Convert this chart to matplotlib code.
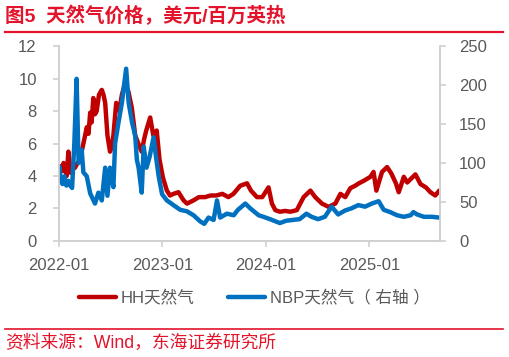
import matplotlib
matplotlib.use('Agg')
import matplotlib.pyplot as plt
from matplotlib.lines import Line2D
import pandas as pd

plt.rcParams['font.family'] = ['Liberation Sans', 'Noto Sans CJK SC', 'DejaVu Sans']

# HH 天然气（左轴，美元/百万英热）
hh_dates = [
    '2022-01-03', '2022-01-06', '2022-01-12', '2022-01-17', '2022-01-24', '2022-01-28',
    '2022-02-03', '2022-02-11', '2022-02-19', '2022-02-26', '2022-03-07', '2022-03-16',
    '2022-03-28', '2022-04-09', '2022-04-15', '2022-04-21', '2022-04-26', '2022-05-02',
    '2022-05-08', '2022-05-14', '2022-05-22', '2022-06-01', '2022-06-07', '2022-06-13',
    '2022-06-21', '2022-06-30', '2022-07-06', '2022-07-12', '2022-07-22', '2022-08-02',
    '2022-08-11', '2022-08-22', '2022-09-03', '2022-09-15', '2022-09-27', '2022-10-08',
    '2022-10-20', '2022-10-29', '2022-11-05', '2022-11-19', '2022-11-30', '2022-12-12',
    '2022-12-22', '2023-01-03', '2023-01-17', '2023-01-28', '2023-02-09', '2023-02-27',
    '2023-03-17', '2023-03-29', '2023-04-21', '2023-05-10', '2023-06-01', '2023-06-20',
    '2023-07-10', '2023-08-01', '2023-08-22', '2023-09-09', '2023-10-03', '2023-10-27',
    '2023-11-10', '2023-12-01', '2023-12-20', '2024-01-11', '2024-01-23', '2024-02-04',
    '2024-02-20', '2024-03-10', '2024-03-28', '2024-04-20', '2024-05-14', '2024-06-07',
    '2024-06-24', '2024-07-18', '2024-08-10', '2024-09-03', '2024-09-21', '2024-10-08',
    '2024-10-26', '2024-11-12', '2024-11-25', '2024-12-12', '2025-01-05', '2025-01-16',
    '2025-01-26', '2025-02-15', '2025-03-05', '2025-03-20', '2025-04-05', '2025-04-15',
    '2025-05-03', '2025-05-15', '2025-06-13', '2025-07-01', '2025-07-20', '2025-08-05',
    '2025-08-22', '2025-09-05',
]
hh_values = [
    4.0, 4.6, 4.3, 4.8, 4.3, 4.0,
    5.5, 4.2, 4.6, 4.5, 4.8, 5.0,
    6.0, 7.0, 6.6, 7.9, 7.3, 8.8,
    7.8, 8.0, 9.0, 9.3, 9.0, 8.5,
    6.5, 5.5, 5.8, 6.5, 8.5, 8.0,
    9.0, 9.7, 9.2, 8.2, 6.5, 6.0,
    5.5, 6.3, 6.8, 7.6, 6.5, 6.8,
    5.0, 3.9, 3.1, 2.8, 2.9, 3.0,
    2.5, 2.3, 2.5, 2.7, 2.7, 2.8,
    2.8, 2.9, 2.7, 2.9, 3.4, 3.55,
    3.1, 2.7, 2.7, 3.3, 2.3, 1.9,
    1.8, 1.85, 1.8, 1.9, 2.7, 3.1,
    2.7, 2.3, 2.1, 2.3, 2.9, 2.7,
    3.25, 3.4, 3.55, 3.7, 3.95, 4.25,
    3.1, 4.25, 4.55, 4.15, 3.55, 3.0,
    3.95, 3.6, 4.1, 3.5, 3.3, 3.0,
    2.8, 3.1,
]

# NBP 天然气（右轴）
nbp_dates = [
    '2022-01-03', '2022-01-06', '2022-01-13', '2022-01-20', '2022-01-27', '2022-02-03',
    '2022-02-10', '2022-02-16', '2022-02-24', '2022-03-04', '2022-03-11', '2022-03-18',
    '2022-03-22', '2022-03-28', '2022-04-09', '2022-04-21', '2022-05-08', '2022-05-20',
    '2022-06-01', '2022-06-13', '2022-06-21', '2022-06-30', '2022-07-12', '2022-07-18',
    '2022-07-30', '2022-08-11', '2022-08-26', '2022-09-04', '2022-09-16', '2022-09-27',
    '2022-10-03', '2022-10-09', '2022-10-20', '2022-10-27', '2022-11-06', '2022-11-17',
    '2022-12-01', '2022-12-11', '2022-12-19', '2022-12-31', '2023-01-17', '2023-02-09',
    '2023-03-05', '2023-03-29', '2023-04-21', '2023-05-15', '2023-05-29', '2023-06-13',
    '2023-07-01', '2023-07-13', '2023-07-24', '2023-08-17', '2023-09-10', '2023-09-25',
    '2023-10-21', '2023-11-07', '2023-12-07', '2023-12-24', '2024-01-16', '2024-02-20',
    '2024-03-14', '2024-04-07', '2024-04-30', '2024-05-24', '2024-06-11', '2024-07-04',
    '2024-07-28', '2024-08-21', '2024-09-13', '2024-10-07', '2024-10-31', '2024-11-23',
    '2024-12-17', '2025-01-10', '2025-02-03', '2025-02-21', '2025-03-16', '2025-04-09',
    '2025-05-03', '2025-05-27', '2025-06-06', '2025-06-19', '2025-07-13', '2025-08-11',
    '2025-09-05',
]
nbp_values = [
    95, 79, 73, 83, 71, 77,
    71, 68, 125, 208, 100, 104,
    117, 88, 83, 61, 48, 62,
    52, 94, 58, 94, 69, 125,
    152, 177, 221, 177, 152, 135,
    104, 94, 62, 121, 94, 108,
    133, 104, 83, 60, 52, 46,
    40, 38, 33, 25, 22, 30,
    27, 52, 30, 35, 33, 40,
    48, 42, 33, 31, 28, 23,
    26, 27, 28, 35, 31, 28,
    31, 44, 34, 39, 42, 46,
    44, 48, 51, 40, 37, 33,
    31, 33, 37, 34, 31, 31,
    30,
]

tick_dates = ['2022-01-01', '2023-01-01', '2024-01-01', '2025-01-01']
tick_labels = ['2022-01', '2023-01', '2024-01', '2025-01']

red = '#C00000'
blue = '#0070C0'
grey_txt = '#595959'
grey_ax = '#D0D0D0'
title_red = '#E3132B'

fig = plt.figure(figsize=(5.09, 3.57), dpi=100)
ax = fig.add_axes([0.116, 0.325, 0.748, 0.546])
ax2 = ax.twinx()

l1, = ax.plot(pd.to_datetime(hh_dates), hh_values, color=red, lw=3.2,
              solid_capstyle='round', solid_joinstyle='round', label='HH天然气')
l2, = ax2.plot(pd.to_datetime(nbp_dates), nbp_values, color=blue, lw=3.2,
               solid_capstyle='round', solid_joinstyle='round', label='NBP天然气（ 右轴 ）')
ax2.set_zorder(ax.get_zorder() + 1)

ax.set_xlim(pd.Timestamp('2022-01-01'), pd.Timestamp('2025-09-07'))
ax.set_ylim(0, 12)
ax2.set_ylim(0, 250)
ax.set_yticks(range(0, 13, 2))
ax2.set_yticks(range(0, 251, 50))
ax.set_xticks(pd.to_datetime(tick_dates))
ax.set_xticklabels(tick_labels)

for a in (ax, ax2):
    for s in a.spines.values():
        s.set_color(grey_ax)
        s.set_linewidth(1.2)
    a.spines['top'].set_visible(False)
    a.tick_params(colors=grey_ax, labelcolor=grey_txt, labelsize=12, length=4, width=1.2)
ax.tick_params(axis='y', pad=12)
ax2.tick_params(axis='y', pad=10)
ax.tick_params(axis='x', pad=8)

fig.legend(handles=[l1, l2], loc='center', bbox_to_anchor=(0.5, 0.166), ncol=2,
           frameon=False, handlelength=2.2, handletextpad=0.3,
           columnspacing=2.0, labelcolor=grey_txt,
           prop={'family': ['Liberation Sans', 'Noto Sans CJK SC'], 'size': 12})

fig.text(0.01, 0.955, '图5  天然气价格，美元/百万英热', color=title_red, fontsize=14,
         fontweight='bold', va='center', ha='left',
         family=['Liberation Sans', 'Noto Sans CJK SC'])
fig.add_artist(Line2D([0.01, 0.988], [0.911, 0.911], color=title_red, lw=1.6))
fig.add_artist(Line2D([0.01, 0.988], [0.079, 0.079], color=title_red, lw=1.2))
fig.text(0.01, 0.039, '资料来源：Wind，东海证券研究所', color=title_red, fontsize=12.8,
         va='center', ha='left', family=['Liberation Sans', 'Noto Sans CJK SC'])

fig.savefig('out.png', dpi=100)
